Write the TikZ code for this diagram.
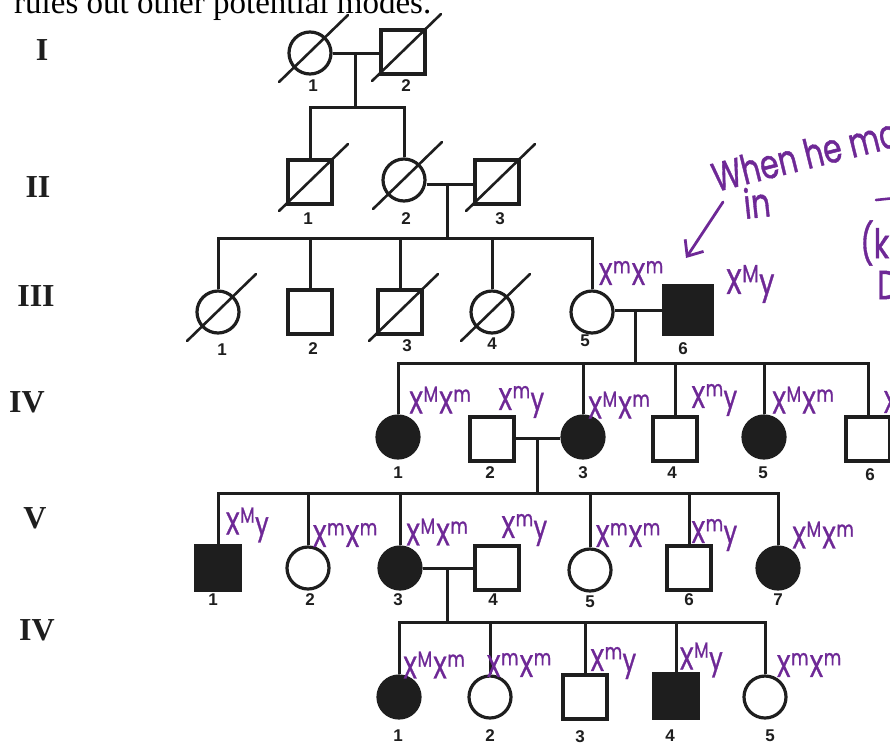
\documentclass[tikz,border=0pt]{standalone}
\usepackage{fontspec}
\setmainfont{Liberation Serif}
\newfontfamily\handfont{Poppins}[FakeBold=1.2]
\newfontfamily\digitfont{Liberation Sans}
\usetikzlibrary{arrows.meta,calc}
\definecolor{pen}{HTML}{6E2896}
\definecolor{ink}{HTML}{1E1E1E}
\newcommand\gX[1]{X\textsuperscript{#1}}
\newcommand\gtxt[1]{\scalebox{1}[1.3]{#1}}
\newcommand\tallnote[1]{\scalebox{1}[1.35]{#1}}
\newcommand\deadmark[1]{\draw[slashline] ([shift={(-31,29)}]#1.center) -- ([shift={(38,-38)}]#1.center);}
\tikzset{
  sym/.style={draw=ink, line width=3.2pt, inner sep=0pt},
  fem/.style={sym, circle, minimum size=42pt},
  mal/.style={sym, rectangle, minimum size=44pt},
  aff/.style={fill=ink},
  lnk/.style={draw=ink, line width=3pt},
  slashline/.style={draw=ink, line width=2.6pt, line cap=round},
  numlab/.style={font=\digitfont\bfseries\fontsize{17}{17}\selectfont, text=ink, inner sep=0pt},
  genlab/.style={font=\bfseries\fontsize{32}{32}\selectfont, text=ink, inner sep=0pt},
  geno/.style={font=\handfont\fontsize{24}{24}\selectfont, text=pen, inner sep=0pt},
  note/.style={font=\handfont\fontsize{30}{30}\selectfont, text=pen, inner sep=0pt},
}
\begin{document}
\begin{tikzpicture}[x=1pt,y=-1pt]
\useasboundingbox (0,0) rectangle (890,745);
\clip (0,0) rectangle (890,745);
\fill[white] (0,0) rectangle (890,745);

% top text (cut off)
\node[anchor=base west, inner sep=0pt, font=\fontsize{33}{33}\selectfont] (toptext) at (14,13) {rules out other potential modes.};

% generation labels
\node[genlab] (gI) at (42,50) {I};
\node[genlab] (gII) at (38,187) {II};
\node[genlab] (gIII) at (36,296) {III};
\node[genlab] (gIV) at (27,402) {IV};
\node[genlab] (gV) at (35,518) {V};
\node[genlab] (gVI) at (37,630) {IV};

% ---------- Generation I
\node[fem] (i1) at (310,53) {};
\node[mal] (i2) at (403,52) {};
\deadmark{i1}\deadmark{i2}
\node[numlab] (n-i1) at (313,86) {1};
\node[numlab] (n-i2) at (406,86) {2};

% ---------- Generation II
\node[mal] (ii1) at (310,182) {};
\node[fem] (ii2) at (404,180) {};
\node[mal] (ii3) at (497,182) {};
\deadmark{ii1}\deadmark{ii2}\deadmark{ii3}
\node[numlab] (n-ii1) at (308,219) {1};
\node[numlab] (n-ii2) at (406,219) {2};
\node[numlab] (n-ii3) at (500,219) {3};

\coordinate (m1) at (355,53);
\coordinate (s2) at (355,107);
\draw[lnk] (i1.east) -- (i2.west |- i1.east);
\draw[lnk] (m1) -- (s2);
\draw[lnk] (ii1.north) |- (s2) -| (ii2.north);

% ---------- Generation III
\node[fem] (iii1) at (218,312) {};
\node[mal] (iii2) at (310,312) {};
\node[mal] (iii3) at (400,312) {};
\node[fem] (iii4) at (492,312) {};
\node[fem] (iii5) at (592,312) {};
\node[mal, aff, minimum size=48pt] (iii6) at (688,310) {};
\deadmark{iii1}\deadmark{iii3}\deadmark{iii4}
\node[numlab] (n-iii1) at (222,350) {1};
\node[numlab] (n-iii2) at (313,349) {2};
\node[numlab] (n-iii3) at (407,346) {3};
\node[numlab] (n-iii4) at (492,344) {4};
\node[numlab] (n-iii5) at (585,341) {5};
\node[numlab] (n-iii6) at (683,349) {6};

\coordinate (m2) at (447,184);
\coordinate (s3) at (447,238);
\draw[lnk] (ii2.east |- m2) -- (ii3.west |- m2);
\draw[lnk] (m2) -- (s3);
\draw[lnk] (iii1.north) |- (s3) -| (iii5.north);
\foreach \n in {iii2,iii3,iii4} \draw[lnk] (\n.north) -- (\n.north |- s3);

% ---------- Generation IV
\node[fem, aff] (iv1) at (398,437) {};
\node[mal] (iv2) at (492,439) {};
\node[fem, aff] (iv3) at (583,437) {};
\node[mal] (iv4) at (675,439) {};
\node[fem, aff] (iv5) at (764,437) {};
\node[mal] (iv6) at (868,439) {};
\node[numlab] (n-iv1) at (398,473) {1};
\node[numlab] (n-iv2) at (490,473) {2};
\node[numlab] (n-iv3) at (583,473) {3};
\node[numlab] (n-iv4) at (672,473) {4};
\node[numlab] (n-iv5) at (763,473) {5};
\node[numlab] (n-iv6) at (870,475) {6};

\coordinate (m3) at (635,310);
\coordinate (s4) at (635,363);
\draw[lnk] (iii5.east |- m3) -- (iii6.west |- m3);
\draw[lnk] (m3) -- (s4);
\draw[lnk] (iv1.north) |- (s4) -| (iv6.north);
\foreach \n in {iv3,iv4,iv5} \draw[lnk] (\n.north) -- (\n.north |- s4);

% ---------- Generation V
\node[mal, aff] (v1) at (218,568) {};
\node[fem] (v2) at (308,568) {};
\node[fem, aff] (v3) at (400,568) {};
\node[mal] (v4) at (497,568) {};
\node[fem] (v5) at (590,570) {};
\node[mal] (v6) at (689,568) {};
\node[fem, aff] (v7) at (778,568) {};
\node[numlab] (n-v1) at (213,600) {1};
\node[numlab] (n-v2) at (310,600) {2};
\node[numlab] (n-v3) at (398,600) {3};
\node[numlab] (n-v4) at (493,600) {4};
\node[numlab] (n-v5) at (590,602) {5};
\node[numlab] (n-v6) at (689,600) {6};
\node[numlab] (n-v7) at (778,600) {7};

\coordinate (m4) at (537,438);
\coordinate (s5) at (537,493);
\draw[lnk] (iv2.east |- m4) -- (iv3.west |- m4);
\draw[lnk] (m4) -- (s5);
\draw[lnk] (v1.north) |- (s5) -| (v7.north);
\foreach \n in {v2,v3,v5,v6} \draw[lnk] (\n.north) -- (\n.north |- s5);

% ---------- Generation VI
\node[fem, aff] (vi1) at (399,697) {};
\node[fem] (vi2) at (490,697) {};
\node[mal] (vi3) at (585,697) {};
\node[mal, aff] (vi4) at (676,696) {};
\node[fem] (vi5) at (765,697) {};
\node[numlab] (n-vi1) at (398,736) {1};
\node[numlab] (n-vi2) at (490,736) {2};
\node[numlab] (n-vi3) at (580,737) {3};
\node[numlab] (n-vi4) at (670,736) {4};
\node[numlab] (n-vi5) at (770,736) {5};

\coordinate (m5) at (447,568);
\coordinate (s6) at (447,622);
\draw[lnk] (v3.east |- m5) -- (v4.west |- m5);
\draw[lnk] (m5) -- (s6);
\draw[lnk] (vi1.north) |- (s6) -| (vi5.north);
\foreach \n in {vi2,vi3,vi4} \draw[lnk] (\n.north) -- (\n.north |- s6);

% ---------- genotypes
\node[geno] (g-iii5) at (631,273) {\gtxt{\gX{m}\gX{m}}};
\node[geno, font=\handfont\fontsize{27}{27}\selectfont] (g-iii6) at (750,284) {\gtxt{\gX{M}y}};
\node[geno] (g-iv1) at (440,400) {\gtxt{\gX{M}\gX{m}}};
\node[geno] (g-iv2) at (521,402) {\gtxt{\gX{m}y}};
\node[geno] (g-iv3) at (619,405) {\gtxt{\gX{M}\gX{m}}};
\node[geno] (g-iv4) at (714,400) {\gtxt{\gX{m}y}};
\node[geno] (g-iv5) at (803,400) {\gtxt{\gX{M}\gX{m}}};
\node[geno, anchor=west] (g-iv6) at (883,402) {\gtxt{X}};
\node[geno] (g-v1) at (247,525) {\gtxt{\gX{M}y}};
\node[geno] (g-v2) at (345,535) {\gtxt{\gX{m}\gX{m}}};
\node[geno] (g-v3) at (437,532) {\gtxt{\gX{M}\gX{m}}};
\node[geno] (g-v4) at (524,530) {\gtxt{\gX{m}y}};
\node[geno] (g-v5) at (628,535) {\gtxt{\gX{m}\gX{m}}};
\node[geno] (g-v6) at (714,535) {\gtxt{\gX{m}y}};
\node[geno] (g-v7) at (823,535) {\gtxt{\gX{M}\gX{m}}};
\node[geno] (g-vi1) at (434,665) {\gtxt{\gX{M}\gX{m}}};
\node[geno] (g-vi2) at (519,665) {\gtxt{\gX{m}\gX{m}}};
\node[geno] (g-vi3) at (613,663) {\gtxt{\gX{m}y}};
\node[geno] (g-vi4) at (701,660) {\gtxt{\gX{M}y}};
\node[geno] (g-vi5) at (809,665) {\gtxt{\gX{m}\gX{m}}};

% ---------- annotation
\node[note, anchor=base west, rotate=14] (when) at (716,192) {\tallnote{When he mo}};
\node[note, anchor=base west, rotate=6] (inword) at (745,219) {\tallnote{in}};
\coordinate (arrtail) at (723,202);
\coordinate (arrtip) at (686,258);
\draw[draw=pen, line width=2.8pt, line cap=round, -{Straight Barb[length=13pt,width=22pt]}] (arrtail) -- (arrtip);
\draw[draw=pen, line width=2.6pt, line cap=round] (876,200) -- (895,198);
\node[note, anchor=west] (kpart) at (860,243) {\tallnote{(k}};
\node[note, anchor=west] (dpart) at (877,285) {\tallnote{D}};
\end{tikzpicture}
\end{document}
